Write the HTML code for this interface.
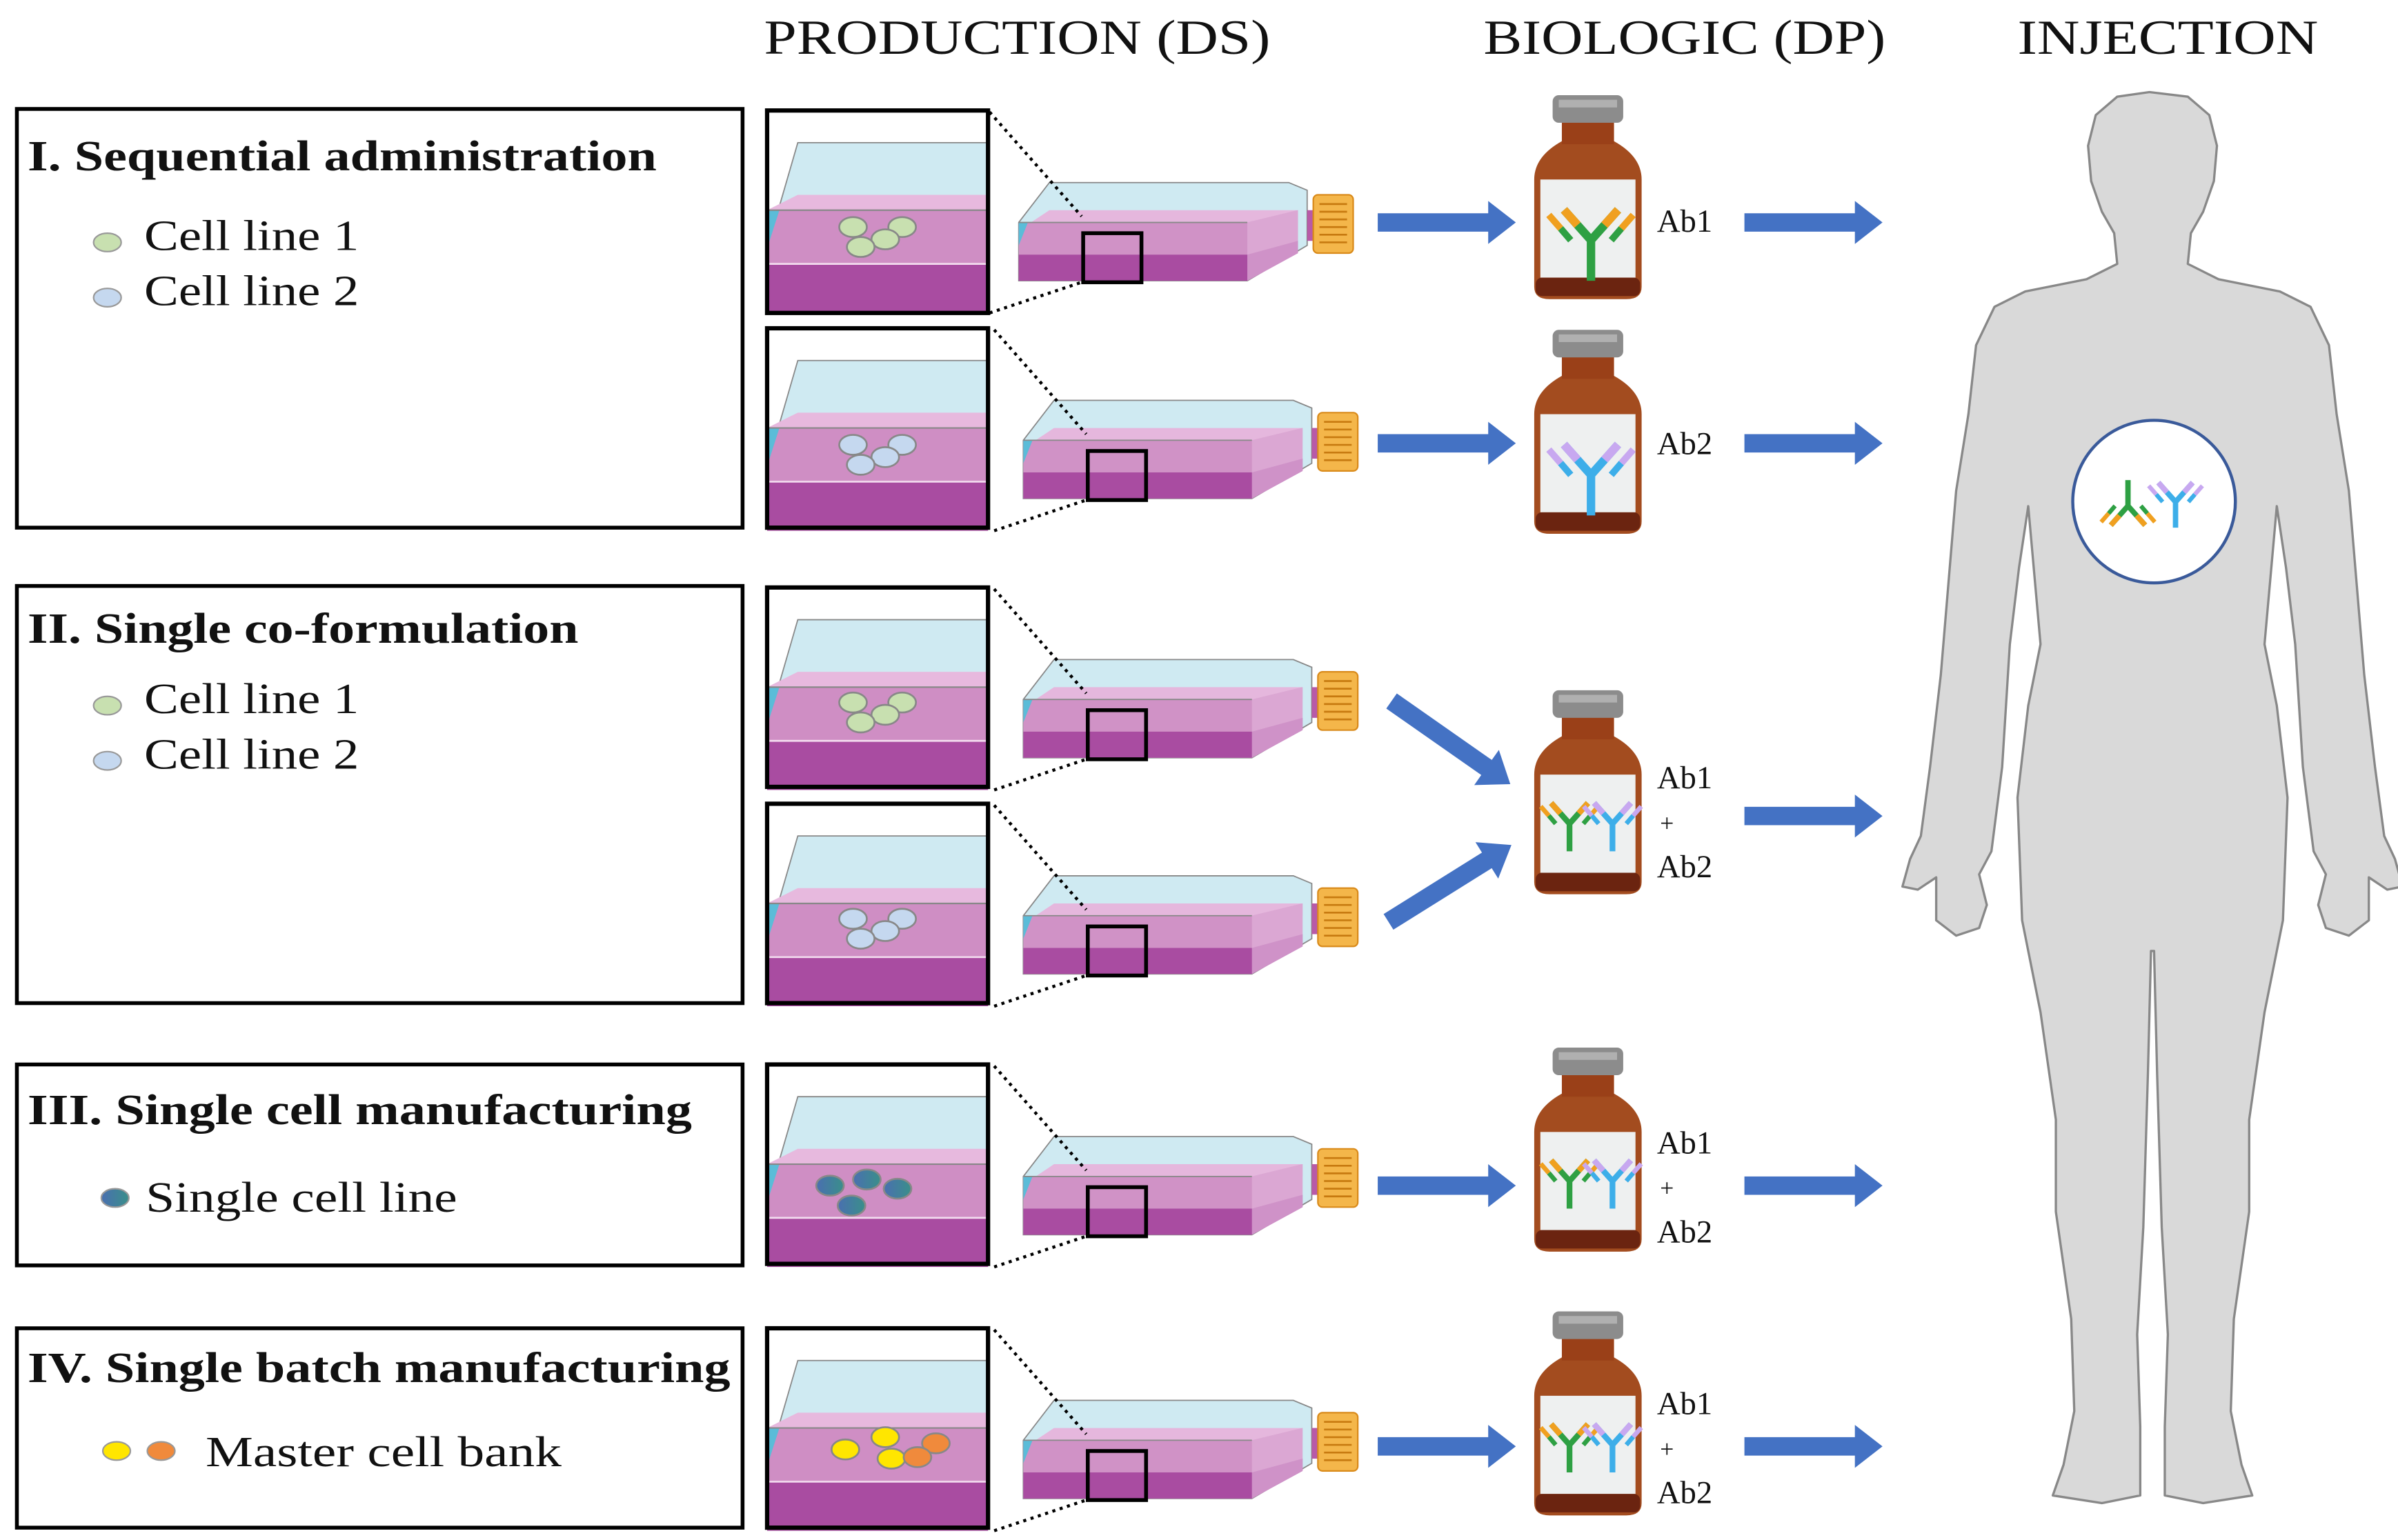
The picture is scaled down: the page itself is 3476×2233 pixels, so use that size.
<!DOCTYPE html>
<html><head><meta charset="utf-8"><style>
html,body{margin:0;padding:0;background:#fff;}
svg{display:block;}
text{font-family:"Liberation Serif",serif;fill:#111;}
</style></head><body>
<svg width="3476" height="2233" viewBox="0 0 1563 1004" xmlns="http://www.w3.org/2000/svg">
<defs>
<linearGradient id="gcell" x1="0" x2="1"><stop offset="0" stop-color="#4a6fb0"/><stop offset="1" stop-color="#3a8f8a"/></linearGradient>
<g id="tray">
  <rect x="0" y="0" width="144" height="132" fill="#fff"/>
  <polygon points="20,21 144,21 144,62 0,65 0,90" fill="#cfeaf2" stroke="#888" stroke-width="0.8"/>
  <polygon points="20,55 144,55 144,65 0,65" fill="#e7b9de"/>
  <rect x="0" y="65" width="144" height="67" fill="#cf8ec4"/>
  <polygon points="0,65 8,65 0,90" fill="#5bbcd8"/>
  <line x1="0" y1="65" x2="144" y2="65" stroke="#888" stroke-width="1"/>
  <rect x="0" y="100" width="144" height="32" fill="#a94ca1"/>
  <line x1="0" y1="100" x2="144" y2="100" stroke="#f3dcef" stroke-width="1.2"/>
</g>
<g id="flask">
  <polygon points="664,145 684,119 840,119 852,124 852,160 813,183 664,183" fill="#cfeaf2" stroke="#888" stroke-width="0.8"/>
  <polygon points="672,145 684,137 846,137 846,145" fill="#e5b7dd"/>
  <polygon points="664,145 813,145 846,137 846,165 813,183 664,183" fill="#d092c6"/>
  <polygon points="664,166 813,166 846,157 846,165 813,183 664,183" fill="#a94ca1"/>
  <polygon points="813,145 846,137 846,165 813,183" fill="#e0b0d8" opacity="0.7"/>
  <polygon points="664,145 670,145 664,160" fill="#5bbcd8"/>
  <line x1="664" y1="145" x2="813" y2="145" stroke="#888" stroke-width="0.8"/>
  <rect x="852" y="137" width="6" height="20" fill="#b85aa8"/>
  <rect x="856" y="127" width="26" height="38" rx="3" fill="#f4b64a" stroke="#d98a1a" stroke-width="1"/>
  <g stroke="#c77a10" stroke-width="1.2">
    <line x1="860" y1="133" x2="878" y2="133"/><line x1="860" y1="138" x2="878" y2="138"/>
    <line x1="860" y1="143" x2="878" y2="143"/><line x1="860" y1="148" x2="878" y2="148"/>
    <line x1="860" y1="153" x2="878" y2="153"/><line x1="860" y1="158" x2="878" y2="158"/>
  </g>
  <rect x="706" y="152" width="38" height="32" fill="none" stroke="#000" stroke-width="2.5"/>
  <line x1="645" y1="73" x2="705" y2="141" stroke="#000" stroke-width="2" stroke-dasharray="2,3"/>
  <line x1="645" y1="204" x2="705" y2="184" stroke="#000" stroke-width="2" stroke-dasharray="2,3"/>
</g>
<g id="vial">
  <path d="M18,30 L52,30 Q70,40 70,55 V125 Q70,133 60,133 H10 Q0,133 0,125 V55 Q0,40 18,30 Z" fill="#a34c1f"/>
  <rect x="18" y="16" width="34" height="16" fill="#9a4018"/>
  <rect x="12" y="0" width="46" height="18" rx="4" fill="#8c8c8c"/>
  <rect x="16" y="3" width="38" height="5" fill="#b0b0b0"/>
  <rect x="4" y="55" width="62" height="64" fill="#eef0f0"/>
  <rect x="1" y="119" width="68" height="12" rx="4" fill="#6b2410"/>
</g>
<g id="ab1">
  <path d="M0,0 V-24 L-16,-42 M0,-24 L16,-42" fill="none" stroke="#2ea043" stroke-width="5"/>
  <path d="M-8,-33 L-16,-42 M8,-33 L16,-42" fill="none" stroke="#f0a020" stroke-width="5"/>
  <path d="M-12,-24 L-18,-31 M12,-24 L18,-31" fill="none" stroke="#2ea043" stroke-width="4"/>
  <path d="M-18,-31 L-25,-39 M18,-31 L25,-39" fill="none" stroke="#f0a020" stroke-width="4"/>
</g>
<g id="ab2">
  <path d="M0,0 V-24 L-16,-42 M0,-24 L16,-42" fill="none" stroke="#3daee9" stroke-width="5"/>
  <path d="M-8,-33 L-16,-42 M8,-33 L16,-42" fill="none" stroke="#c8a8f0" stroke-width="5"/>
  <path d="M-12,-24 L-18,-31 M12,-24 L18,-31" fill="none" stroke="#3daee9" stroke-width="4"/>
  <path d="M-18,-31 L-25,-39 M18,-31 L25,-39" fill="none" stroke="#c8a8f0" stroke-width="4"/>
</g>
<polygon id="arr" points="0,-6 72,-6 72,-14 90,0 72,14 72,6 0,6" fill="#4472c4"/>
</defs>

<text x="663" y="35" font-size="32" text-anchor="middle" textLength="330" lengthAdjust="spacingAndGlyphs">PRODUCTION (DS)</text>
<text x="1098" y="35" font-size="32" text-anchor="middle" textLength="262" lengthAdjust="spacingAndGlyphs">BIOLOGIC (DP)</text>
<text x="1413" y="35" font-size="32" text-anchor="middle" textLength="196" lengthAdjust="spacingAndGlyphs">INJECTION</text>

<g fill="none" stroke="#000" stroke-width="2.5">
<rect x="11" y="71" width="473" height="273"/>
<rect x="11" y="382" width="473" height="272"/>
<rect x="11" y="694" width="473" height="131"/>
<rect x="11" y="866" width="473" height="130"/>
</g>
<g font-weight="bold" font-size="28">
<text x="18" y="111" textLength="410" lengthAdjust="spacingAndGlyphs">I. Sequential administration</text>
<text x="18" y="419" textLength="359" lengthAdjust="spacingAndGlyphs">II. Single co-formulation</text>
<text x="18" y="733" textLength="433" lengthAdjust="spacingAndGlyphs">III. Single cell manufacturing</text>
<text x="18" y="901" textLength="458" lengthAdjust="spacingAndGlyphs">IV. Single batch manufacturing</text>
</g>
<g font-size="28">
<text x="94" y="163" textLength="140" lengthAdjust="spacingAndGlyphs">Cell line 1</text>
<text x="94" y="199" textLength="140" lengthAdjust="spacingAndGlyphs">Cell line 2</text>
<text x="94" y="465" textLength="140" lengthAdjust="spacingAndGlyphs">Cell line 1</text>
<text x="94" y="501" textLength="140" lengthAdjust="spacingAndGlyphs">Cell line 2</text>
<text x="95" y="790" textLength="203" lengthAdjust="spacingAndGlyphs">Single cell line</text>
<text x="134" y="956" textLength="232" lengthAdjust="spacingAndGlyphs">Master cell bank</text>
</g>
<g stroke="#999" stroke-width="1">
<ellipse cx="70" cy="158" rx="9" ry="6" fill="#c8e0b0"/>
<ellipse cx="70" cy="194" rx="9" ry="6" fill="#c5d8ef"/>
<ellipse cx="70" cy="460" rx="9" ry="6" fill="#c8e0b0"/>
<ellipse cx="70" cy="496" rx="9" ry="6" fill="#c5d8ef"/>
<ellipse cx="75" cy="781" rx="9" ry="6" fill="url(#gcell)"/>
<ellipse cx="76" cy="946" rx="9" ry="6" fill="#ffe600"/>
<ellipse cx="105" cy="946" rx="9" ry="6" fill="#f08a3c"/>
</g>

<use href="#tray" x="500" y="72"/>
<use href="#tray" x="500" y="214"/>
<use href="#tray" x="500" y="383"/>
<use href="#tray" x="500" y="524"/>
<use href="#tray" x="500" y="694"/>
<use href="#tray" x="500" y="866"/>
<g fill="none" stroke="#000" stroke-width="2.8">
<rect x="500" y="72" width="144" height="132"/>
<rect x="500" y="214" width="144" height="130"/>
<rect x="500" y="383" width="144" height="130"/>
<rect x="500" y="524" width="144" height="130"/>
<rect x="500" y="694" width="144" height="130"/>
<rect x="500" y="866" width="144" height="130"/>
</g>
<g stroke="#888" stroke-width="1.2">
<g fill="#c8e0b0"><ellipse cx="556" cy="148" rx="9" ry="6.5"/><ellipse cx="588" cy="148" rx="9" ry="6.5"/><ellipse cx="577" cy="156" rx="9" ry="6.5"/><ellipse cx="561" cy="161" rx="9" ry="6.5"/></g>
<g fill="#c5d8ef"><ellipse cx="556" cy="290" rx="9" ry="6.5"/><ellipse cx="588" cy="290" rx="9" ry="6.5"/><ellipse cx="577" cy="298" rx="9" ry="6.5"/><ellipse cx="561" cy="303" rx="9" ry="6.5"/></g>
<g fill="#c8e0b0"><ellipse cx="556" cy="458" rx="9" ry="6.5"/><ellipse cx="588" cy="458" rx="9" ry="6.5"/><ellipse cx="577" cy="466" rx="9" ry="6.5"/><ellipse cx="561" cy="471" rx="9" ry="6.5"/></g>
<g fill="#c5d8ef"><ellipse cx="556" cy="599" rx="9" ry="6.5"/><ellipse cx="588" cy="599" rx="9" ry="6.5"/><ellipse cx="577" cy="607" rx="9" ry="6.5"/><ellipse cx="561" cy="612" rx="9" ry="6.5"/></g>
<g fill="url(#gcell)"><ellipse cx="541" cy="773" rx="9" ry="6.5"/><ellipse cx="565" cy="769" rx="9" ry="6.5"/><ellipse cx="585" cy="775" rx="9" ry="6.5"/><ellipse cx="555" cy="786" rx="9" ry="6.5"/></g>
<g><ellipse cx="577" cy="937" rx="9" ry="6.5" fill="#ffe600"/><ellipse cx="551" cy="945" rx="9" ry="6.5" fill="#ffe600"/><ellipse cx="581" cy="951" rx="9" ry="6.5" fill="#ffe600"/><ellipse cx="610" cy="941" rx="9" ry="6.5" fill="#f08a3c"/><ellipse cx="598" cy="950" rx="9" ry="6.5" fill="#f08a3c"/></g>
</g>

<use href="#flask"/>
<use href="#flask" x="3" y="142"/>
<use href="#flask" x="3" y="311"/>
<use href="#flask" x="3" y="452"/>
<use href="#flask" x="3" y="622"/>
<use href="#flask" x="3" y="794"/>

<use href="#arr" x="898" y="145"/>
<use href="#arr" x="898" y="289"/>
<use href="#arr" x="898" y="773"/>
<use href="#arr" x="898" y="943"/>
<use href="#arr" x="1137" y="145"/>
<use href="#arr" x="1137" y="289"/>
<use href="#arr" x="1137" y="532"/>
<use href="#arr" x="1137" y="773"/>
<use href="#arr" x="1137" y="943"/>
<use href="#arr" transform="translate(907,457) rotate(35) scale(1.05,1)"/>
<use href="#arr" transform="translate(905,601) rotate(-32) scale(1.05,1)"/>

<use href="#vial" x="1000" y="62"/>
<use href="#vial" x="1000" y="215"/>
<use href="#vial" x="1000" y="450"/>
<use href="#vial" x="1000" y="683"/>
<use href="#vial" x="1000" y="855"/>
<use href="#ab1" transform="translate(1037,183) scale(1.1)"/>
<use href="#ab2" transform="translate(1037,336) scale(1.1)"/>
<use href="#ab1" transform="translate(1023,555) scale(0.75)"/>
<use href="#ab2" transform="translate(1051,555) scale(0.75)"/>
<use href="#ab1" transform="translate(1023,788) scale(0.75)"/>
<use href="#ab2" transform="translate(1051,788) scale(0.75)"/>
<use href="#ab1" transform="translate(1023,960) scale(0.75)"/>
<use href="#ab2" transform="translate(1051,960) scale(0.75)"/>

<g font-size="21">
<text x="1080" y="151">Ab1</text>
<text x="1080" y="296">Ab2</text>
<text x="1080" y="514">Ab1</text><text x="1082" y="542" font-size="16">+</text><text x="1080" y="572">Ab2</text>
<text x="1080" y="752">Ab1</text><text x="1082" y="780" font-size="16">+</text><text x="1080" y="810">Ab2</text>
<text x="1080" y="922">Ab1</text><text x="1082" y="950" font-size="16">+</text><text x="1080" y="980">Ab2</text>
</g>

<path fill="#d9d9d9" stroke="#888" stroke-width="1.5" stroke-linejoin="round" d="
M1401,60 L1380,63 L1366,75 L1361,95 L1363,118 L1370,138 L1378,152 L1380,172 L1360,182 L1320,190 L1300,200 L1288,225 L1283,270 L1275,320 L1270,380 L1265,440 L1258,500 L1252,545 L1245,560 L1240,578 L1250,580 L1262,572 L1262,600 L1275,610 L1290,605 L1295,590 L1290,570 L1298,555 L1305,500 L1310,420 L1316,370 L1322,330 L1330,420 L1322,460 L1315,520 L1318,600 L1330,660 L1340,730 L1340,790 L1350,860 L1352,920 L1345,955 L1338,975 L1370,980 L1395,975 L1395,930 L1393,870 L1397,800 L1400,700 L1402,620
L1404,620 L1406,700 L1409,800 L1413,870 L1411,930 L1411,975 L1436,980 L1468,975 L1461,955 L1454,920 L1456,860 L1466,790 L1466,730 L1476,660 L1488,600 L1491,520 L1484,460 L1476,420 L1484,330 L1490,370 L1496,420 L1501,500 L1508,555 L1516,570 L1511,590 L1516,605 L1531,610 L1544,600 L1544,572 L1556,580 L1566,578 L1561,560 L1554,545 L1548,500 L1541,440 L1536,380 L1531,320 L1523,270 L1518,225 L1506,200 L1486,190 L1446,182 L1426,172 L1428,152 L1436,138 L1443,118 L1445,95 L1440,75 L1426,63 Z"/>
<circle cx="1404" cy="327" r="53" fill="#fff" stroke="#3a5a9a" stroke-width="2"/>
<use href="#ab1" transform="translate(1387,313) rotate(180) scale(0.7)"/>
<use href="#ab2" transform="translate(1418,344) scale(0.7)"/>
</svg>
</body></html>
